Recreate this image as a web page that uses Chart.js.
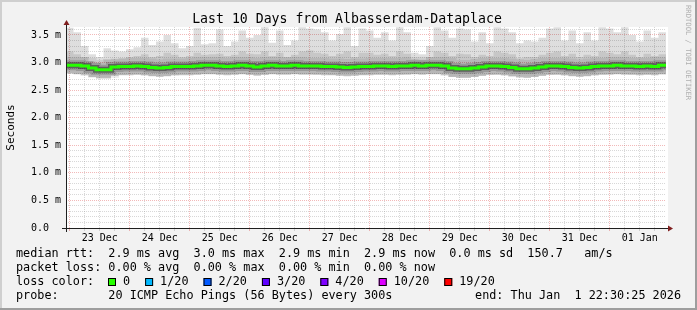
<!DOCTYPE html>
<html>
<head>
<meta charset="utf-8">
<script src="https://cdn.jsdelivr.net/npm/chart.js@4.4.0/dist/chart.umd.min.js"></script>
<style>
  html, body { margin: 0; padding: 0; background: #f2f2f2; }
  canvas { display: block; }
</style>
</head>
<body>
<canvas id="myChart" width="697" height="310"></canvas>
<script>
// one reading every 3 hours, starting 22 Dec 22:30 (values in ms)
const stepHours = 3;

const medianRtt = [
    2.95, 2.95, 2.94, 2.90, 2.87, 2.87, 2.92, 2.93, 2.93, 2.94,
    2.93, 2.91, 2.90, 2.91, 2.93, 2.93, 2.93, 2.94, 2.95, 2.95,
    2.94, 2.93, 2.94, 2.95, 2.94, 2.92, 2.94, 2.95, 2.94, 2.94,
    2.95, 2.94, 2.94, 2.94, 2.93, 2.93, 2.92, 2.91, 2.92, 2.93,
    2.93, 2.94, 2.94, 2.93, 2.94, 2.94, 2.95, 2.94, 2.95, 2.95,
    2.94, 2.90, 2.89, 2.89, 2.90, 2.92, 2.94, 2.94, 2.93, 2.91,
    2.89, 2.89, 2.90, 2.92, 2.94, 2.94, 2.93, 2.91, 2.90, 2.91,
    2.93, 2.94, 2.94, 2.95, 2.94, 2.94, 2.93, 2.94, 2.93, 2.95
];

const maxRtt = [
    3.63, 3.55, 3.30, 3.15, 3.10, 3.26, 3.22, 3.20, 3.24, 3.28,
    3.45, 3.32, 3.38, 3.50, 3.35, 3.26, 3.30, 3.63, 3.33, 3.35,
    3.60, 3.30, 3.38, 3.58, 3.45, 3.50, 3.64, 3.36, 3.58, 3.32,
    3.40, 3.64, 3.62, 3.60, 3.55, 3.40, 3.52, 3.64, 3.30, 3.62,
    3.58, 3.45, 3.55, 3.40, 3.64, 3.55, 3.18, 3.15, 3.30, 3.64,
    3.58, 3.45, 3.62, 3.60, 3.38, 3.55, 3.35, 3.64, 3.62, 3.55,
    3.35, 3.40, 3.38, 3.45, 3.62, 3.64, 3.40, 3.58, 3.35, 3.55,
    3.40, 3.64, 3.62, 3.55, 3.64, 3.50, 3.38, 3.58, 3.45, 3.55
];

const upperRtt = [
    3.20, 3.15, 3.10, 3.02, 3.00, 3.05, 3.06, 3.08, 3.10, 3.12,
    3.15, 3.10, 3.12, 3.18, 3.14, 3.10, 3.12, 3.18, 3.14, 3.15,
    3.16, 3.12, 3.14, 3.20, 3.16, 3.15, 3.20, 3.12, 3.18, 3.10,
    3.14, 3.20, 3.22, 3.18, 3.16, 3.12, 3.16, 3.20, 3.10, 3.18,
    3.18, 3.14, 3.16, 3.12, 3.20, 3.16, 3.06, 3.05, 3.10, 3.20,
    3.18, 3.12, 3.16, 3.15, 3.10, 3.14, 3.12, 3.20, 3.18, 3.15,
    3.08, 3.10, 3.10, 3.14, 3.18, 3.20, 3.12, 3.16, 3.10, 3.14,
    3.12, 3.20, 3.18, 3.15, 3.20, 3.14, 3.10, 3.16, 3.12, 3.15
];

const lowRtt = [
    2.80, 2.79, 2.78, 2.74, 2.71, 2.71, 2.76, 2.77, 2.77, 2.78,
    2.77, 2.75, 2.74, 2.75, 2.77, 2.77, 2.77, 2.78, 2.79, 2.79,
    2.78, 2.77, 2.78, 2.79, 2.78, 2.76, 2.78, 2.79, 2.78, 2.78,
    2.79, 2.78, 2.78, 2.78, 2.77, 2.77, 2.76, 2.75, 2.76, 2.77,
    2.77, 2.78, 2.78, 2.77, 2.78, 2.78, 2.79, 2.78, 2.79, 2.79,
    2.78, 2.74, 2.72, 2.72, 2.74, 2.76, 2.78, 2.78, 2.77, 2.75,
    2.73, 2.72, 2.74, 2.76, 2.78, 2.78, 2.77, 2.75, 2.74, 2.75,
    2.77, 2.78, 2.78, 2.79, 2.78, 2.78, 2.77, 2.78, 2.77, 2.79
];

const dayLabels = ['23 Dec', '24 Dec', '25 Dec', '26 Dec', '27 Dec',
                   '28 Dec', '29 Dec', '30 Dec', '31 Dec', '01 Jan'];
const yTickLabels = ['0.0  ', '0.5 m', '1.0 m', '1.5 m', '2.0 m', '2.5 m', '3.0 m', '3.5 m'];

const lossLabels = ['0', '1/20', '2/20', '3/20', '4/20', '10/20', '19/20'];
const lossColors = ['#26ff00', '#00b8ff', '#0059ff', '#5e00ff', '#7e00ff', '#dd00ff', '#ff0000'];

const legendLines = [
    'median rtt:  2.9 ms avg  3.0 ms max  2.9 ms min  2.9 ms now  0.0 ms sd  150.7   am/s',
    'packet loss: 0.00 % avg  0.00 % max  0.00 % min  0.00 % now',
    'loss color:',
    'probe:       20 ICMP Echo Pings (56 Bytes) every 300s'
];
const endText = 'end: Thu Jan  1 22:30:25 2026';

// grid positions: every 6 h from midnight 23 Dec (1.5 h after start), every 0.1 ms
const xGridHours = [];
for (let h = 1.5; h < 240; h += 6) xGridHours.push(h);
const yGridValues = [];
for (let k = 0; k <= 36; k++) yGridValues.push(k / 10);

const MONO = '"DejaVu Sans Mono", monospace';
const MINOR = 'rgba(143,143,143,0.35)';
const MAJOR = 'rgba(222,80,80,0.4)';

function points(arr) {
    const pts = arr.map((v, i) => ({ x: i * stepHours, y: v }));
    pts.push({ x: arr.length * stepHours, y: arr[arr.length - 1] });
    return pts;
}

function smoke(label, arr, opts) {
    return Object.assign({
        label: label,
        data: points(arr),
        stepped: true,
        pointRadius: 0,
        borderColor: 'rgba(0,0,0,0)',
        borderWidth: 1,
        fill: false
    }, opts);
}

const isMidnight = h => Math.abs((h - 1.5) % 24) < 1e-6;
const isNoon = h => Math.abs((h - 13.5) % 24) < 1e-6;

const frame = {
    id: 'frame',
    beforeDraw(chart) {
        const { ctx, chartArea: a, width: w, height: h } = chart;
        ctx.save();
        ctx.fillStyle = '#f2f2f2';
        ctx.fillRect(0, 0, w, h);
        ctx.fillStyle = '#cfcfcf';
        ctx.fillRect(0, 0, w, 2);
        ctx.fillRect(0, 0, 2, h);
        ctx.fillStyle = '#9e9e9e';
        ctx.fillRect(0, h - 2, w, 2);
        ctx.fillRect(w - 2, 0, 2, h);
        ctx.fillStyle = '#ffffff';
        ctx.fillRect(a.left, a.top, a.right - a.left + 2, a.bottom - a.top);
        ctx.restore();
    },
    afterDraw(chart) {
        const { ctx, chartArea: a } = chart;
        const x0 = a.left + 0.5, y0 = a.bottom + 0.5;
        ctx.save();
        // axes
        ctx.strokeStyle = '#1f1f1f';
        ctx.lineWidth = 1;
        ctx.beginPath();
        ctx.moveTo(a.left - 4, y0);
        ctx.lineTo(a.right + 3, y0);
        ctx.moveTo(x0, a.bottom + 4);
        ctx.lineTo(x0, a.top - 4);
        ctx.stroke();
        // arrows
        ctx.fillStyle = '#801f1f';
        ctx.beginPath();
        ctx.moveTo(x0 - 3, a.top - 2);
        ctx.lineTo(x0 + 3, a.top - 2);
        ctx.lineTo(x0, a.top - 7);
        ctx.closePath();
        ctx.fill();
        ctx.beginPath();
        ctx.moveTo(a.right + 2, y0 - 3);
        ctx.lineTo(a.right + 2, y0 + 3);
        ctx.lineTo(a.right + 7, y0);
        ctx.closePath();
        ctx.fill();

        // title
        ctx.fillStyle = '#000';
        ctx.textBaseline = 'middle';
        ctx.textAlign = 'center';
        ctx.font = '13.2px ' + MONO;
        ctx.fillText('Last 10 Days from Albasserdam-Dataplace', 347, 20);

        // vertical label
        ctx.save();
        ctx.translate(11, (a.top + a.bottom) / 2);
        ctx.rotate(-Math.PI / 2);
        ctx.font = '11px ' + MONO;
        ctx.fillText('Seconds', 0, 0);
        ctx.restore();

        // watermark
        ctx.save();
        ctx.translate(688, 5);
        ctx.rotate(Math.PI / 2);
        ctx.textAlign = 'left';
        ctx.fillStyle = '#b0b0b0';
        ctx.font = '7.2px ' + MONO;
        ctx.fillText('RRDTOOL / TOBI OETIKER', 0, 0);
        ctx.restore();

        // legend
        ctx.textAlign = 'left';
        ctx.font = '11.8px ' + MONO;
        const rows = [254, 268, 282, 296];
        legendLines.forEach((t, i) => ctx.fillText(t, 16, rows[i]));
        ctx.textAlign = 'right';
        ctx.fillText(endText, 681, rows[3]);
        ctx.textAlign = 'left';
        let bx = 108;
        lossLabels.forEach((lab, i) => {
            ctx.fillStyle = lossColors[i];
            ctx.fillRect(bx, rows[2] - 4, 8, 8);
            ctx.strokeStyle = '#000';
            ctx.strokeRect(bx + 0.5, rows[2] - 3.5, 7, 7);
            ctx.fillStyle = '#000';
            ctx.fillText(lab, bx + 15, rows[2]);
            bx += 15 + ctx.measureText(lab).width + 15;
        });
        ctx.restore();
    }
};

const config = {
    type: 'line',
    data: {
        datasets: [
            smoke('median', medianRtt, { borderColor: '#26ff00', borderWidth: 3 }),
            smoke('core', medianRtt, { borderColor: 'rgba(0,0,0,0.38)', borderWidth: 6 }),
            smoke('inner', medianRtt, { borderColor: 'rgba(0,0,0,0.16)', borderWidth: 10 }),
            smoke('outer', medianRtt, { borderColor: 'rgba(0,0,0,0.08)', borderWidth: 16 }),
            smoke('upper', upperRtt, { backgroundColor: 'rgba(0,0,0,0.1)', fill: 6 }),
            smoke('max', maxRtt, { backgroundColor: 'rgba(0,0,0,0.13)', fill: 6 }),
            smoke('low', lowRtt, {})
        ]
    },
    options: {
        responsive: false,
        animation: false,
        events: [],
        layout: { padding: { left: 0, top: 27, right: 31, bottom: 62 } },
        plugins: {
            legend: { display: false },
            tooltip: { enabled: false }
        },
        scales: {
            x: {
                type: 'linear',
                min: 0,
                max: 240,
                z: 1,
                afterBuildTicks: s => { s.ticks = xGridHours.map(v => ({ value: v })); },
                afterFit: s => { s.height = 20; },
                grid: {
                    color: c => isMidnight(c.tick.value) ? MAJOR : MINOR,
                    tickColor: c => isMidnight(c.tick.value) ? MAJOR : MINOR,
                    tickLength: 3
                },
                border: { display: false, dash: [1, 1] },
                ticks: {
                    autoSkip: false,
                    maxRotation: 0,
                    padding: 1,
                    color: '#000',
                    font: { family: MONO, size: 10 },
                    callback: v => isNoon(v) ? dayLabels[Math.round((v - 13.5) / 24)] : ''
                }
            },
            y: {
                min: 0,
                max: 3.645,
                z: 1,
                afterBuildTicks: s => { s.ticks = yGridValues.map(v => ({ value: v })); },
                afterFit: s => { s.width = 66; },
                grid: {
                    color: c => Math.round(c.tick.value * 10) % 5 === 0 ? MAJOR : MINOR,
                    drawTicks: false
                },
                border: { display: false, dash: [1, 1] },
                ticks: {
                    autoSkip: false,
                    padding: 5,
                    color: '#000',
                    font: { family: MONO, size: 10 },
                    callback: v => Math.round(v * 10) % 5 === 0 ? yTickLabels[Math.round(v * 2)] : ''
                }
            }
        }
    },
    plugins: [frame]
};

var ctx = document.getElementById('myChart');
const myChart = new Chart(ctx, config);
</script>
</body>
</html>
